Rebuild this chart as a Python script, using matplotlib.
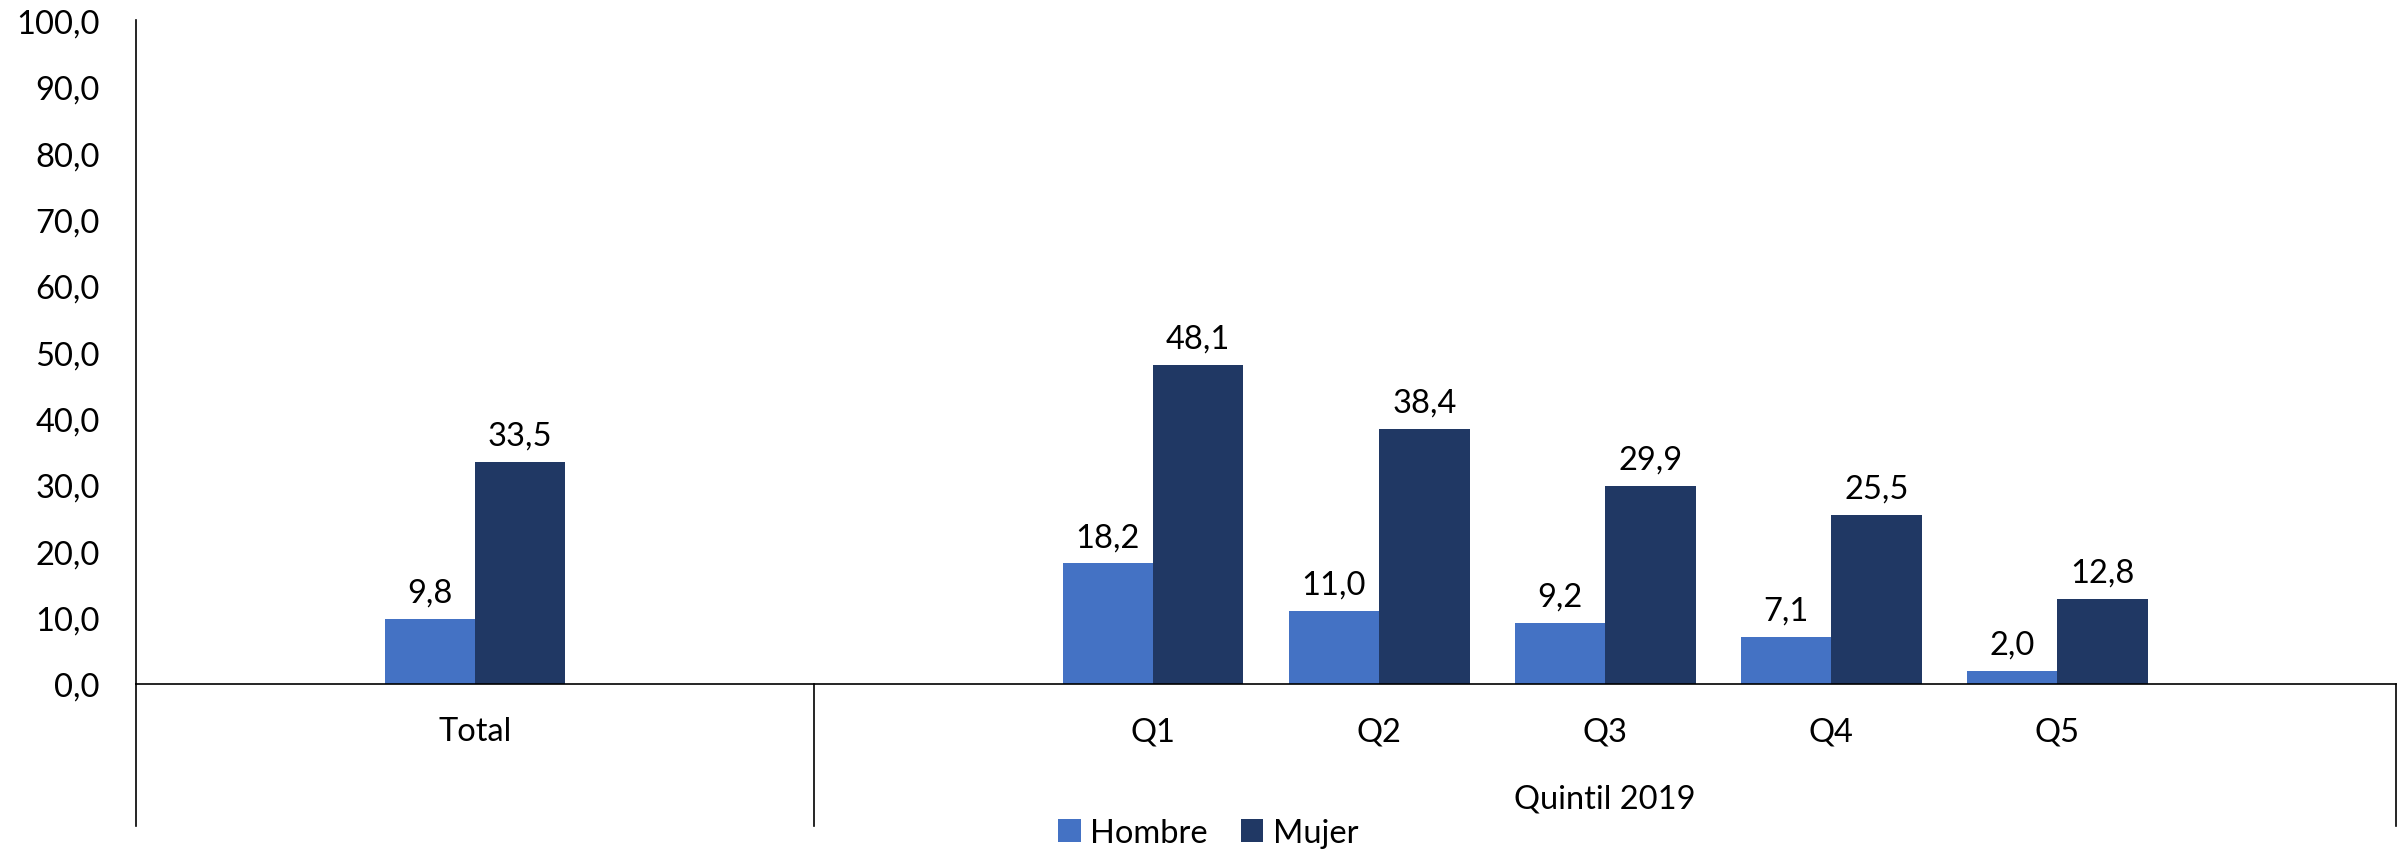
import matplotlib.pyplot as plt

# data
categories = ['Total', 'Q1', 'Q2', 'Q3', 'Q4', 'Q5']
hombre = [9.8, 18.2, 11.0, 9.2, 7.1, 2.0]
mujer = [33.5, 48.1, 38.4, 29.9, 25.5, 12.8]
series_names = ['Hombre', 'Mujer']
group_label = 'Quintil 2019'
y_ticks = [0, 10, 20, 30, 40, 50, 60, 70, 80, 90, 100]

# layout: Total sits in its own block, quintiles in a wider block
slots = [0, 3, 4, 5, 6, 7]
colors = ['#4472C4', '#203864']

plt.rcParams['font.family'] = ['Lato', 'DejaVu Sans']
fs = 23.5

fig = plt.figure(figsize=(24.02, 8.53), dpi=100)
ax = fig.add_axes([0.0566, 0.197, 0.941, 0.778])

w = 0.4
b1 = ax.bar([s - w / 2 for s in slots], hombre, w, color=colors[0], label=series_names[0])
b2 = ax.bar([s + w / 2 for s in slots], mujer, w, color=colors[1], label=series_names[1])

for bars, vals in [(b1, hombre), (b2, mujer)]:
    for rect, v in zip(bars, vals):
        ax.annotate(f'{v:.1f}'.replace('.', ','),
                    (rect.get_x() + rect.get_width() / 2, v),
                    xytext=(0, 8), textcoords='offset points',
                    ha='center', va='bottom', fontsize=fs)

ax.set_xlim(-1.5, 8.5)
ax.set_ylim(0, 100)
ax.set_yticks(y_ticks)
ax.set_yticklabels([f'{t:.1f}'.replace('.', ',') for t in y_ticks], fontsize=fs)
ax.tick_params(axis='y', length=0, pad=26)
ax.set_xticks([])

for sp in ['top', 'right']:
    ax.spines[sp].set_visible(False)
ax.spines['left'].set_linewidth(1.2)
ax.spines['bottom'].set_linewidth(1.2)

# category boxes below the axis
tr = ax.get_xaxis_transform()
depth = -0.214
for xv in [-1.5, 1.5, 8.5]:
    ax.plot([xv, xv], [0, depth], transform=tr, color='black', lw=1.2, clip_on=False)

for s, c in zip(slots, categories):
    ax.text(s, -0.071, c, transform=tr, ha='center', va='center', fontsize=fs)
ax.text(5.0, -0.173, group_label, transform=tr, ha='center', va='center', fontsize=fs)

fig.legend(loc='center', bbox_to_anchor=(0.503, 0.022), ncol=2, frameon=False,
           fontsize=fs, handlelength=0.7, handleheight=0.7, handletextpad=0.3,
           columnspacing=1.0, borderaxespad=0)

fig.savefig('out.png', dpi=100)
